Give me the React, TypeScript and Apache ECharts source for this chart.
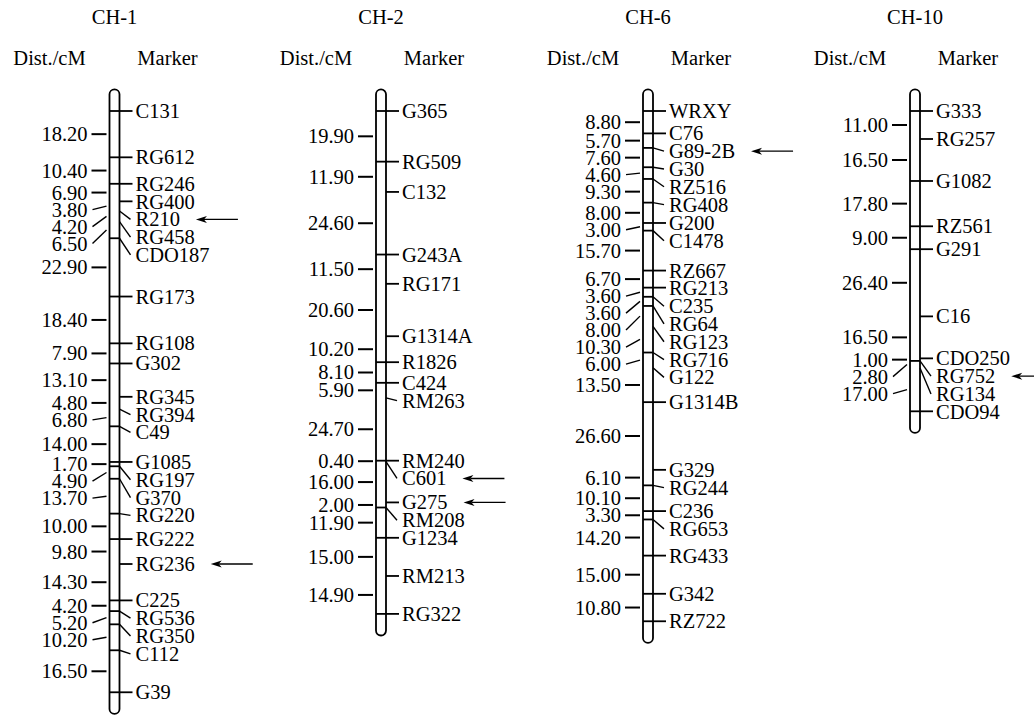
import { useEffect, useRef } from "react";
import * as echarts from "echarts";

// ---------- data ----------
const ch1Markers = ["C131", "RG612", "RG246", "RG400", "R210", "RG458", "CDO187", "RG173", "RG108", "G302", "RG345", "RG394", "C49", "G1085", "RG197", "G370", "RG220", "RG222", "RG236", "C225", "RG536", "RG350", "C112", "G39"];
const ch1Dist = [18.2, 10.4, 6.9, 3.8, 4.2, 6.5, 22.9, 18.4, 7.9, 13.1, 4.8, 6.8, 14.0, 1.7, 4.9, 13.7, 10.0, 9.8, 14.3, 4.2, 5.2, 10.2, 16.5];
const ch1Frame = [1, 1, 1, 0, 0, 0, 1, 1, 1, 1, 0, 0, 1, 1, 1, 1, 1, 1, 0, 1, 1, 1, 1, 1];
const ch1Arrows = ["R210", "RG236"];

const ch2Markers = ["G365", "RG509", "C132", "G243A", "RG171", "G1314A", "R1826", "C424", "RM263", "RM240", "C601", "G275", "RM208", "G1234", "RM213", "RG322"];
const ch2Dist = [19.9, 11.9, 24.6, 11.5, 20.6, 10.2, 8.1, 5.9, 24.7, 0.4, 16.0, 2.0, 11.9, 15.0, 14.9];
const ch2Frame = [1, 1, 0, 1, 0, 0, 1, 1, 0, 1, 0, 0, 1, 1, 0, 1];
const ch2Arrows = ["C601", "G275"];

const ch6Markers = ["WRXY", "C76", "G89-2B", "G30", "RZ516", "RG408", "G200", "C1478", "RZ667", "RG213", "C235", "RG64", "RG123", "RG716", "G122", "G1314B", "G329", "RG244", "C236", "RG653", "RG433", "G342", "RZ722"];
const ch6Dist = [8.8, 5.7, 7.6, 4.6, 9.3, 8.0, 3.0, 15.7, 6.7, 3.6, 3.6, 8.0, 10.3, 6.0, 13.5, 26.6, 6.1, 10.1, 3.3, 14.2, 15.0, 10.8];
const ch6Frame = [1, 1, 1, 1, 1, 1, 1, 1, 1, 1, 1, 1, 0, 1, 0, 1, 0, 1, 1, 1, 1, 1, 1];
const ch6Arrows = ["G89-2B"];

const ch10Markers = ["G333", "RG257", "G1082", "RZ561", "G291", "C16", "CDO250", "RG752", "RG134", "CDO94"];
const ch10Dist = [11.0, 16.5, 17.8, 9.0, 26.4, 16.5, 1.0, 2.8, 17.0];
const ch10Frame = [1, 0, 1, 1, 1, 0, 0, 1, 0, 1];
const ch10Arrows = ["RG752"];

const titles = ["CH-1", "CH-2", "CH-6", "CH-10"];

// ---------- layout ----------
const W = 1034;
const H = 715;
const PX_PER_CM = 2.545;
const Y_MIN = -10;
const Y_MAX = 230;
const ZERO_Y = 111;
const CENTERS = [114.5, 381, 648, 915];
const FONT = "'Liberation Serif', 'Times New Roman', serif";
const FS = 20.5;

const chromosomes = [
  { title: titles[0], markers: ch1Markers, dist: ch1Dist, frame: ch1Frame, arrows: ch1Arrows, cx: CENTERS[0] },
  { title: titles[1], markers: ch2Markers, dist: ch2Dist, frame: ch2Frame, arrows: ch2Arrows, cx: CENTERS[1] },
  { title: titles[2], markers: ch6Markers, dist: ch6Dist, frame: ch6Frame, arrows: ch6Arrows, cx: CENTERS[2] },
  { title: titles[3], markers: ch10Markers, dist: ch10Dist, frame: ch10Frame, arrows: ch10Arrows, cx: CENTERS[3] },
];

function cumulative(dist: number[]) {
  const out = [0];
  for (const d of dist) out.push(out[out.length - 1] + d);
  return out;
}

function pushDown(desired: number[], gap: number) {
  const out: number[] = [];
  let prev = -Infinity;
  for (const d of desired) {
    const y = Math.max(d, prev + gap);
    out.push(y);
    prev = y;
  }
  return out;
}

let measureCtx: CanvasRenderingContext2D | null = null;
function textWidth(t: string) {
  if (!measureCtx) measureCtx = document.createElement("canvas").getContext("2d");
  if (!measureCtx) return t.length * 10;
  measureCtx.font = `${FS}px ${FONT}`;
  return measureCtx.measureText(t).width;
}

function txt(x: number, y: number, text: string, align: string) {
  return {
    type: "text",
    x,
    y,
    style: {
      text,
      fill: "#000",
      fontSize: FS,
      fontFamily: FONT,
      align,
      verticalAlign: "middle",
      textAlign: align,
      textVerticalAlign: "middle",
    },
  };
}

function ln(x1: number, y1: number, x2: number, y2: number, w = 1.6) {
  return { type: "line", shape: { x1, y1, x2, y2 }, style: { stroke: "#000", lineWidth: w } };
}

function makeSeries(ch: (typeof chromosomes)[number]) {
  const pos = cumulative(ch.dist);
  return {
    type: "custom",
    coordinateSystem: "cartesian2d",
    silent: true,
    clip: false,
    data: [[ch.cx, 0]],
    renderItem: (_params: any, api: any) => {
      const cx = api.coord([ch.cx, 0])[0];
      const py = (v: number) => api.coord([ch.cx, v])[1];
      const children: any[] = [];
      // headers
      children.push(txt(cx, 17, ch.title, "center"));
      children.push(txt(cx - 65, 58, "Dist./cM", "center"));
      children.push(txt(cx + 53, 58, "Marker", "center"));
      // chromosome bar
      const top = py(pos[0] - 8.5);
      const bot = py(pos[pos.length - 1] + 8.5);
      children.push({
        type: "rect",
        shape: { x: cx - 5, y: top, width: 10, height: bot - top, r: 5 },
        style: { fill: "#fff", stroke: "#000", lineWidth: 1.8 },
      });
      // markers
      const my = pos.map(py);
      const ly = pushDown(my, 17.8);
      ch.markers.forEach((m, i) => {
        if (ch.frame[i]) children.push(ln(cx - 5, my[i], cx + 5, my[i], 1.8));
        if (Math.abs(ly[i] - my[i]) < 1) children.push(ln(cx + 5, my[i], cx + 18, my[i], 1.8));
        else children.push(ln(cx + 5, my[i], cx + 16, ly[i], 1.4));
        children.push(txt(cx + 21, ly[i], m, "left"));
        if (ch.arrows.includes(m)) {
          const head = cx + 21 + textWidth(m) + 16;
          children.push(ln(head + 8, ly[i], head + 42, ly[i], 1.3));
          children.push({
            type: "polygon",
            shape: { points: [[head, ly[i]], [head + 11, ly[i] - 3.5], [head + 8, ly[i]], [head + 11, ly[i] + 3.5]] },
            style: { fill: "#000" },
          });
        }
      });
      // distances
      const mid = ch.dist.map((_, i) => (my[i] + my[i + 1]) / 2);
      const dy = pushDown(mid, 17);
      ch.dist.forEach((d, i) => {
        if (Math.abs(dy[i] - mid[i]) < 1) children.push(ln(cx - 23, dy[i], cx - 8, dy[i], 2));
        else children.push(ln(cx - 22, dy[i], cx - 8, mid[i], 1.4));
        children.push(txt(cx - 27, dy[i], d.toFixed(2), "right"));
      });
      return { type: "group", children };
    },
  };
}

export default function App() {
  const ref = useRef<HTMLDivElement>(null);
  useEffect(() => {
    document.body.style.margin = "0";
    if (!ref.current) return;
    const chart = echarts.init(ref.current, undefined, { renderer: "svg" });
    const top = ZERO_Y + Y_MIN * PX_PER_CM;
    chart.setOption({
      animation: false,
      backgroundColor: "#fff",
      grid: { left: 0, top, width: W, height: (Y_MAX - Y_MIN) * PX_PER_CM },
      xAxis: { type: "value", min: 0, max: W, show: false },
      yAxis: { type: "value", min: Y_MIN, max: Y_MAX, inverse: true, show: false },
      series: chromosomes.map(makeSeries),
    });
    return () => chart.dispose();
  }, []);
  return <div ref={ref} style={{ width: W, height: H }} />;
}
